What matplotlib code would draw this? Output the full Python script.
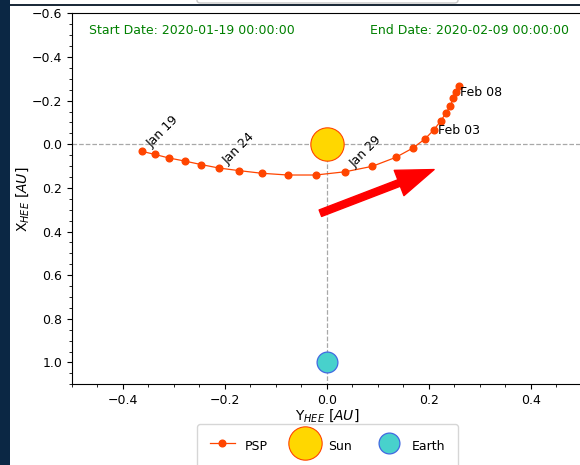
import matplotlib
matplotlib.use("Agg")
import matplotlib.pyplot as plt
from matplotlib.patches import Rectangle, FancyBboxPatch
from matplotlib.ticker import MultipleLocator, AutoMinorLocator

# PSP daily positions in HEE coordinates [AU], 2020-01-19 .. 2020-02-09
psp_y = [-0.362, -0.337, -0.310, -0.279, -0.247, -0.212, -0.172, -0.128,
         -0.077, -0.022, 0.036, 0.089, 0.135, 0.168, 0.192, 0.210,
         0.223, 0.233, 0.242, 0.248, 0.253, 0.258]
psp_x = [0.033, 0.047, 0.063, 0.077, 0.093, 0.109, 0.121, 0.133,
         0.141, 0.141, 0.126, 0.101, 0.060, 0.018, -0.024, -0.067,
         -0.107, -0.142, -0.177, -0.211, -0.240, -0.267]

# Date labels placed on selected days
label_index = [0, 5, 10, 15, 20]
label_text = ["Jan 19", "Jan 24", "Jan 29", "Feb 03", "Feb 08"]
label_rotation = [45, 45, 45, 0, 0]

sun_pos = (0.0, 0.0)
earth_pos = (0.0, 1.0)

start_label = "Start Date: 2020-01-19 00:00:00"
end_label = "End Date: 2020-02-09 00:00:00"

# Direction arrow (tail -> head), in HEE coordinates
arrow_tail = (-0.013, 0.316)
arrow_head = (0.210, 0.116)

W, H = 580, 465
fig = plt.figure(figsize=(W / 100, H / 100), dpi=100)
fig.patch.set_facecolor("white")

# Window chrome around the plot
fig.add_artist(Rectangle((0, 0), 10 / W, 1, transform=fig.transFigure,
                         facecolor="#0b2744", edgecolor="none", zorder=5))
fig.add_artist(Rectangle((10 / W, 1 - 6 / H), 1, 2 / H, transform=fig.transFigure,
                         facecolor="#1c2b3a", edgecolor="none", zorder=5))
fig.add_artist(FancyBboxPatch((197 / W, 1 - 3 / H), 261 / W, 20 / H,
                              boxstyle="round,pad=0,rounding_size=0.006",
                              transform=fig.transFigure, facecolor="white",
                              edgecolor="#c8c8c8", lw=1.0, zorder=5))

ax = fig.add_axes([72 / W, 1 - 384.3 / H, 510 / W, (384.3 - 13.3) / H])
ax.spines["right"].set_visible(False)

ax.set_xlim(-0.5, 0.5)
ax.set_ylim(1.1, -0.6)

ax.xaxis.set_major_locator(MultipleLocator(0.2))
ax.yaxis.set_major_locator(MultipleLocator(0.2))
ax.xaxis.set_minor_locator(AutoMinorLocator(4))
ax.yaxis.set_minor_locator(AutoMinorLocator(4))
ax.tick_params(labelsize=9)

# Reference lines through the Sun
ax.axhline(0.0, color="#a8a8a8", ls="--", lw=0.9, zorder=1)
ax.plot([0.0, 0.0], [0.0, 1.1], color="#a8a8a8", ls="--", lw=0.9, zorder=1)

ax.plot(psp_y, psp_x, "-o", color="orangered", lw=0.9, ms=4.8, zorder=3, label="PSP")
ax.plot(*sun_pos, "o", ms=24, mfc="gold", mec="orangered", mew=0.8, zorder=4, label="Sun")
ax.plot(*earth_pos, "o", ms=15, mfc="mediumturquoise", mec="royalblue", mew=0.9,
        zorder=4, label="Earth")

for i, txt, rot in zip(label_index, label_text, label_rotation):
    if rot:
        ax.annotate(txt, (psp_y[i], psp_x[i]), xytext=(8, 1), textcoords="offset points",
                    rotation=rot, rotation_mode="anchor", ha="left", va="bottom",
                    fontsize=9, zorder=5)
    else:
        ax.annotate(txt, (psp_y[i], psp_x[i]), xytext=(3, -0.5), textcoords="offset points",
                    ha="left", va="center", fontsize=9, zorder=5)

ax.annotate("", xy=arrow_head, xytext=arrow_tail,
            arrowprops=dict(facecolor="red", edgecolor="red", width=5,
                            headwidth=19.5, headlength=27, shrink=0), zorder=5)

ax.text(0.033, 0.953, start_label, transform=ax.transAxes, color="green",
        fontsize=9, ha="left", va="center")
ax.text(0.975, 0.953, end_label, transform=ax.transAxes, color="green",
        fontsize=9, ha="right", va="center")

ax.set_xlabel(r"Y$_{HEE}$ $[AU]$", fontsize=10, labelpad=0)
ax.set_ylabel(r"X$_{HEE}$ $[AU]$", fontsize=10, labelpad=1)

fig.legend(handles=ax.get_lines()[2:5], loc="upper center", ncol=3, fontsize=9,
           borderpad=1.0, handleheight=1.9, borderaxespad=0,
           bbox_to_anchor=(327.5 / W, 1 - 424 / H), bbox_transform=fig.transFigure)

fig.savefig("out.png", dpi=100)
